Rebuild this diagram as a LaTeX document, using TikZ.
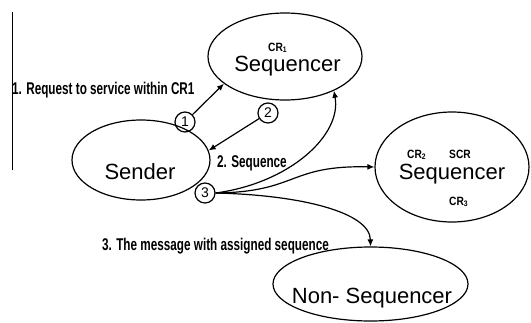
\documentclass[tikz,border=0pt]{standalone}
\usepackage{fontspec}
\setmainfont{Liberation Sans}
\newfontfamily\lblfont[FakeStretch=0.69]{Liberation Sans}
\newfontfamily\crfont[FakeStretch=0.85]{Liberation Sans}
\usetikzlibrary{shapes.geometric,arrows.meta}

\begin{document}
\begin{tikzpicture}[x=1pt,y=1pt,ell/.style={ellipse,draw,line width=1.2pt,inner sep=0pt},big/.style={font=\fontsize{22}{26}\selectfont,inner sep=0pt,anchor=base},num/.style={circle,draw,line width=1.2pt,minimum size=20pt,inner sep=0pt,font=\fontsize{14}{16}\selectfont},lbl/.style={font=\lblfont\bfseries\fontsize{17}{20}\selectfont,inner sep=0pt,anchor=base west},cr/.style={font=\crfont\bfseries\fontsize{12}{14}\selectfont,inner sep=0pt,anchor=base west},arr/.style={draw,line width=1.2pt,-{Latex[length=7pt,width=6pt]}}]
\useasboundingbox (0,0) rectangle (531,-322);

\node[ell, minimum width=154pt, minimum height=87pt] (seq1) at (285,-56.5) {};
\node[big] (seq1txt) at (287.5,-71) {Sequencer};
\node[cr] (cr1) at (268,-51) {CR\textsubscript{1}};

\node[ell, minimum width=138pt, minimum height=80pt] (sender) at (141,-160) {};
\node[big] (sendertxt) at (140,-179) {Sender};

\node[ell, minimum width=154pt, minimum height=110pt] (seq2) at (452,-167) {};
\node[big] (seq2txt) at (452,-179) {Sequencer};
\node[cr] (cr2) at (407,-158) {CR\textsubscript{2}};
\node[cr] (scr) at (449,-158) {SCR};
\node[cr] (cr3) at (449,-205) {CR\textsubscript{3}};

\node[ell, minimum width=195pt, minimum height=74pt] (nonseq) at (370.5,-284) {};
\node[big] (nonseqtxt) at (372,-303) {Non- Sequencer};

\node[num] (c1) at (185,-122) {1};
\node[num] (c2) at (268,-113) {2};
\node[num] (c3) at (205,-193) {3};

\node[lbl] (l1) at (12,-94) {1. Request to service within CR1};
\node[lbl] (l2) at (217,-167) {2. Sequence};
\node[lbl] (l3) at (102,-250) {3. The message with assigned sequence};

\draw[line width=1.2pt] (12.5,-12) -- (12.5,-170);

\path[arr] (c1) -- (seq1.204);
\path[arr] (c2) -- (sender.8);
\path[arr] (c3.east) .. controls (290,-183) and (342,-135) .. (seq1.-35);
\path[arr] (c3.east) .. controls (298,-192) and (288,-165) .. (seq2.west);
\path[arr] (c3.east) .. controls (300,-195) and (370,-212) .. (nonseq.north);

\end{tikzpicture}
\end{document}
